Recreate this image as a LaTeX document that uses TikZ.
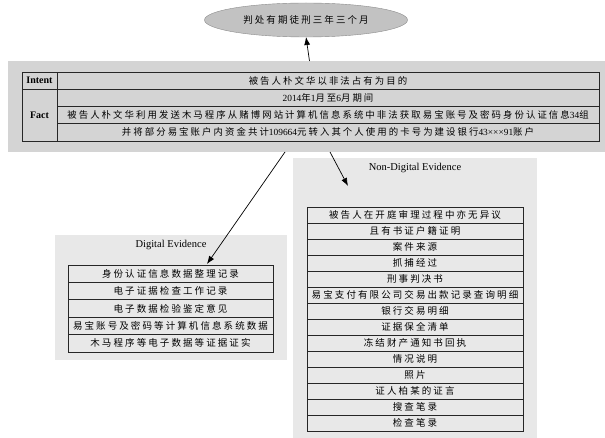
\documentclass[tikz,border=0pt]{standalone}
\usepackage{fontspec}
\setmainfont{Liberation Serif}
\newfontfamily\cjk[LetterSpace=22]{Noto Sans CJK SC}
\usepackage{tikz}
\usetikzlibrary{shapes.geometric,arrows.meta}
\definecolor{factgray}{HTML}{D4D4D4}
\definecolor{evidgray}{HTML}{E8E8E8}
\definecolor{verdgray}{HTML}{C2C2C2}

\begin{document}
\begin{tikzpicture}[x=1pt,y=-1pt,
  every node/.style={inner sep=0pt, outer sep=0pt},
  panel/.style={fill=#1, minimum width=\pw, minimum height=\ph},
  cell/.style={draw=black!85, line width=0.8pt, font=\cjk\fontsize{9.4}{10}\selectfont},
  evid/.style={draw=black!85, line width=0.8pt, font=\cjk\fontsize{9.5}{10}\selectfont},
  arrow/.style={-{Latex[length=8pt,width=6pt]}, line width=0.7pt, black}]
\useasboundingbox (0,0) rectangle (605,438);

\def\pw{597pt}\def\ph{91pt}
\node[panel=factgray] (facts) at (306.5,106.5) {};
\def\pw{232pt}\def\ph{125pt}
\node[panel=evidgray] (digital) at (171,297.5) {};
\def\pw{244pt}\def\ph{280pt}
\node[panel=evidgray] (nondigital) at (415,298) {};

\node[ellipse, fill=verdgray, draw=black!45, minimum width=203pt, minimum height=34pt,
  font=\cjk\fontsize{9.5}{10}\selectfont] (verdict) at (306,20) {判处有期徒刑三年三个月};

% facts table
\node[cell, font=\bfseries\fontsize{10}{11}\selectfont, minimum width=35pt, minimum height=17.25pt] (intent) at (39.5,80.6) {Intent};
\node[cell, font=\bfseries\fontsize{10}{11}\selectfont, minimum width=35pt, minimum height=51.75pt] (fact) at (39.5,115.1) {Fact};
\node[cell, minimum width=542pt, minimum height=17.25pt] (intenttext) at (328,80.6) {被告人朴文华以非法占有为目的};
\node[cell, minimum width=542pt, minimum height=17.25pt] (fact1) at (328,97.9) {{\rmfamily 2014}年{\rmfamily 1}月至{\rmfamily 6}月期间};
\node[cell, minimum width=542pt, minimum height=17.25pt] (fact2) at (328,115.1) {被告人朴文华利用发送木马程序从赌博网站计算机信息系统中非法获取易宝账号及密码身份认证信息{\rmfamily 34}组};
\node[cell, minimum width=542pt, minimum height=17.25pt] (fact3) at (328,132.4) {并将部分易宝账户内资金共计{\rmfamily 109664}元转入其个人使用的卡号为建设银行{\rmfamily 43×××91}账户};

% digital evidence
\node[font=\fontsize{10.5}{12}\selectfont] (diglabel) at (171,245) {Digital Evidence};
\node[evid, minimum width=205pt, minimum height=17.4pt] (d1) at (170.5,273.7) {身份认证信息数据整理记录};
\node[evid, minimum width=205pt, minimum height=17.4pt] (d2) at (170.5,291.1) {电子证据检查工作记录};
\node[evid, minimum width=205pt, minimum height=17.4pt] (d3) at (170.5,308.5) {电子数据检验鉴定意见};
\node[evid, minimum width=205pt, minimum height=17.4pt] (d4) at (170.5,325.9) {易宝账号及密码等计算机信息系统数据};
\node[evid, minimum width=205pt, minimum height=17.4pt] (d5) at (170.5,343.3) {木马程序等电子数据等证据证实};

% non-digital evidence
\node[font=\fontsize{10.5}{12}\selectfont] (nondiglabel) at (415,168) {Non-Digital Evidence};
\node[evid, minimum width=216pt, minimum height=16pt] (n1) at (415,215) {被告人在开庭审理过程中亦无异议};
\node[evid, minimum width=216pt, minimum height=16pt] (n2) at (415,231) {且有书证户籍证明};
\node[evid, minimum width=216pt, minimum height=16pt] (n3) at (415,247) {案件来源};
\node[evid, minimum width=216pt, minimum height=16pt] (n4) at (415,263) {抓捕经过};
\node[evid, minimum width=216pt, minimum height=16pt] (n5) at (415,279) {刑事判决书};
\node[evid, minimum width=216pt, minimum height=16pt] (n6) at (415,295) {易宝支付有限公司交易出款记录查询明细};
\node[evid, minimum width=216pt, minimum height=16pt] (n7) at (415,311) {银行交易明细};
\node[evid, minimum width=216pt, minimum height=16pt] (n8) at (415,327) {证据保全清单};
\node[evid, minimum width=216pt, minimum height=16pt] (n9) at (415,343) {冻结财产通知书回执};
\node[evid, minimum width=216pt, minimum height=16pt] (n10) at (415,359) {情况说明};
\node[evid, minimum width=216pt, minimum height=16pt] (n11) at (415,375) {照片};
\node[evid, minimum width=216pt, minimum height=16pt] (n12) at (415,391) {证人柏某的证言};
\node[evid, minimum width=216pt, minimum height=16pt] (n13) at (415,407) {搜查笔录};
\node[evid, minimum width=216pt, minimum height=16pt] (n14) at (415,423) {检查笔录};

\coordinate (digin) at (207,264);
\coordinate (nondigin) at (348,186);
\draw[arrow] ([xshift=3pt]facts.north) -- (verdict.south);
\draw[arrow] ([xshift=-21.5pt]facts.south) -- (digin);
\draw[arrow] ([xshift=23.5pt]facts.south) -- (nondigin);
\end{tikzpicture}
\end{document}
